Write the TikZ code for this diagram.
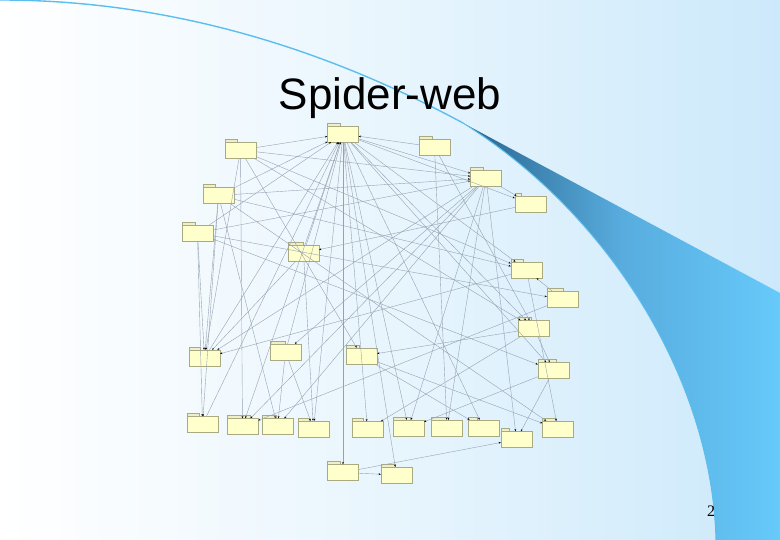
\documentclass[tikz,border=0pt]{standalone}
\usepackage{fontspec}
\usepackage{xcolor}
\usepackage{tikz}
\usetikzlibrary{arrows.meta, shadings}
\newfontfamily\titlefont{Liberation Sans}
\newfontfamily\numfont{Liberation Serif}
\definecolor{bgblue}{RGB}{204,233,251}
\definecolor{rimblue}{RGB}{92,190,238}
\definecolor{swdark}{RGB}{40,100,140}
\definecolor{swmid}{RGB}{88,172,222}
\definecolor{swlight}{RGB}{102,202,250}
\definecolor{pkgyellow}{RGB}{255,255,204}
\definecolor{pkgedge}{RGB}{170,170,130}
\definecolor{tabyellow}{RGB}{240,240,200}
\definecolor{webgray}{RGB}{150,162,178}

\begin{document}
\begin{tikzpicture}[
    x=1pt, y=-1pt,
    pkg/.style={rectangle, draw=pkgedge, fill=pkgyellow, line width=0.4pt, minimum width=31pt, minimum height=16pt, inner sep=0pt},
    pkgtab/.style={draw=pkgedge, fill=tabyellow, line width=0.3pt},
    dep/.style={draw=webgray, line width=0.4pt, -{Stealth[length=2.2pt, width=1.8pt, color=black]}}
]
    % slide background
    \shade[left color=white, right color=bgblue, middle color=bgblue!45] (0,0) rectangle (780,540);
    \useasboundingbox (0,0) rectangle (780,540);

    % swoosh
    \draw[rimblue, line width=1.4pt] (0,0) .. controls (154,0) and (309,40) .. (463,123);
    \shade[left color=swdark, right color=swlight, middle color=swmid]
        (463,123) -- (780,293) -- (780,540) -- (716,540)
        .. controls (712,380) and (610,215) .. (463,123) -- cycle;
    \draw[rimblue, line width=1pt] (463,123) .. controls (610,215) and (712,380) .. (716,540);

    \node[font=\titlefont\fontsize{44}{48}\selectfont, anchor=base] (title) at (390,110) {Spider-web};
    \node[font=\numfont\fontsize{16}{18}\selectfont, anchor=base] (pagenum) at (711,516) {2};

    % packages
    \node[pkg] (p1)  at (343,134)   {};
    \node[pkg] (p2)  at (240.5,150) {};
    \node[pkg] (p3)  at (218.5,195.5) {};
    \node[pkg] (p4)  at (197.5,233) {};
    \node[pkg] (p5)  at (303.5,253) {};
    \node[pkg] (p6)  at (434.5,147) {};
    \node[pkg] (p7)  at (486,178)   {};
    \node[pkg] (p8)  at (530.5,204) {};
    \node[pkg] (p9)  at (526.5,270) {};
    \node[pkg] (p10) at (562.5,299.5) {};
    \node[pkg] (p11) at (534,328.5) {};
    \node[pkg] (p12) at (553.5,370.5) {};
    \node[pkg] (p13) at (558,429)   {};
    \node[pkg] (p14) at (516.5,439.5) {};
    \node[pkg] (p15) at (483.5,428) {};
    \node[pkg] (p16) at (447,428)   {};
    \node[pkg] (p17) at (408.5,428) {};
    \node[pkg] (p18) at (367.5,429.5) {};
    \node[pkg] (p19) at (313.5,429) {};
    \node[pkg] (p20) at (277.5,426.5) {};
    \node[pkg] (p21) at (242.5,426.5) {};
    \node[pkg] (p22) at (202.5,424.5) {};
    \node[pkg] (p23) at (204.5,358) {};
    \node[pkg] (p24) at (285.5,352) {};
    \node[pkg] (p25) at (361.5,356) {};
    \node[pkg] (p26) at (343,472.5) {};
    \node[pkg] (p27) at (396.5,475) {};

    \foreach \n/\w in {p1/13, p2/12, p3/12, p4/13, p5/15, p6/13, p7/13, p8/6, p9/12,
        p10/16, p11/13, p12/18, p13/13, p14/8, p15/9, p16/17, p17/17, p18/11, p19/11,
        p20/14, p21/23, p22/12, p23/11, p24/15, p25/13, p26/13, p27/14}
        \draw[pkgtab] (\n.north west) rectangle ++(\w,-3);

    % dependencies
    \foreach \a/\b in {p2/p1, p6/p1, p1/p7, p2/p7, p3/p7, p4/p7, p3/p1, p4/p1, p5/p1,
        p23/p1, p22/p1, p24/p1, p1/p26, p1/p19, p1/p18, p1/p17, p1/p15, p1/p11, p1/p9,
        p1/p8, p1/p12, p1/p21, p1/p27, p2/p21, p2/p11, p2/p9, p2/p25, p2/p23,
        p3/p22, p3/p20, p3/p9, p3/p23, p3/p13, p4/p23, p4/p22, p4/p10, p4/p12,
        p7/p8, p7/p23, p7/p20, p7/p21, p7/p14, p7/p16, p7/p17, p7/p24, p6/p11, p6/p16,
        p8/p5, p9/p23, p10/p9, p10/p21, p11/p12, p11/p25, p11/p18, p12/p17, p5/p23,
        p5/p19, p24/p20, p24/p19, p25/p13, p26/p27, p26/p14, p9/p13, p12/p14, p25/p15}
        \draw[dep] (\a) -- (\b);
\end{tikzpicture}
\end{document}
